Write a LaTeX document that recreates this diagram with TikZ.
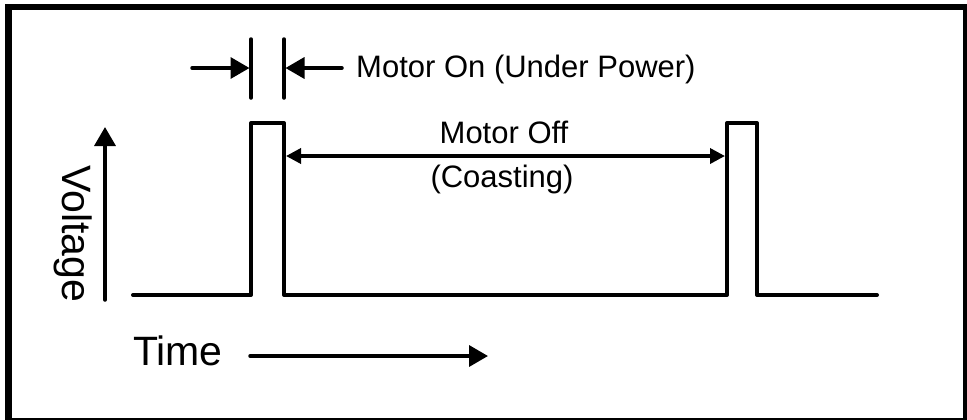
\documentclass[tikz,border=0pt]{standalone}
\usepackage{fontspec}
\setmainfont{Liberation Sans}
\usetikzlibrary{arrows.meta}
\begin{document}
\begin{tikzpicture}[x=1bp,y=-1bp,
  wave/.style={line width=4bp, line join=round, line cap=round},
  tick/.style={line width=3.5bp, line cap=round},
  bigarrow/.style={line width=3.5bp, line cap=round, -{Triangle[length=19bp,width=21bp]}},
  smallarrow/.style={line width=3.5bp, {Triangle[length=15bp,width=15bp]}-{Triangle[length=15bp,width=15bp]}},
  labelA/.style={inner sep=0pt, font=\fontsize{31bp}{36bp}\selectfont},
  labelB/.style={inner sep=0pt, font=\fontsize{41bp}{46bp}\selectfont}]
\path[use as bounding box] (0,0) rectangle (967,419);
% frame
\fill[black] (5,4) rectangle (970,422);
\fill[white] (12,10) rectangle (963,418);
% waveform
\coordinate (w0) at (133,295);
\coordinate (p1a) at (251,295); \coordinate (p1b) at (251,123);
\coordinate (p1c) at (284,123); \coordinate (p1d) at (284,295);
\coordinate (p2a) at (727,295); \coordinate (p2b) at (727,123);
\coordinate (p2c) at (757,123); \coordinate (p2d) at (757,295);
\coordinate (w9) at (877,295);
\draw[wave] (w0) -- (p1a) -- (p1b) -- (p1c) -- (p1d) -- (p2a) -- (p2b) -- (p2c) -- (p2d) -- (w9);
% motor on dimension
\coordinate (t1a) at (251,39); \coordinate (t1b) at (251,98);
\coordinate (t2a) at (284,39); \coordinate (t2b) at (284,98);
\draw[tick] (t1a) -- (t1b);
\draw[tick] (t2a) -- (t2b);
\coordinate (a1s) at (192,68); \coordinate (a1e) at (249.5,68);
\coordinate (a2s) at (342,68); \coordinate (a2e) at (285.5,68);
\draw[bigarrow] (a1s) -- (a1e);
\draw[bigarrow] (a2s) -- (a2e);
\node[labelA, anchor=base west] (on) at (356,77) {Motor On (Under Power)};
% motor off dimension
\coordinate (o1) at (286,156); \coordinate (o2) at (725,156);
\draw[smallarrow] (o1) -- (o2);
\node[labelA, anchor=base] (off) at (504,143) {Motor Off};
\node[labelA, anchor=base] (coast) at (502,187) {(Coasting)};
% axes
\coordinate (v1) at (105,300); \coordinate (v2) at (105,127);
\draw[bigarrow] (v1) -- (v2);
\node[labelB, anchor=base west, rotate=-90] (volt) at (62,165) {Voltage};
\coordinate (h1) at (250,356); \coordinate (h2) at (488,356);
\draw[bigarrow] (h1) -- (h2);
\node[labelB, anchor=base west] (time) at (133,365) {Time};
\end{tikzpicture}
\end{document}
